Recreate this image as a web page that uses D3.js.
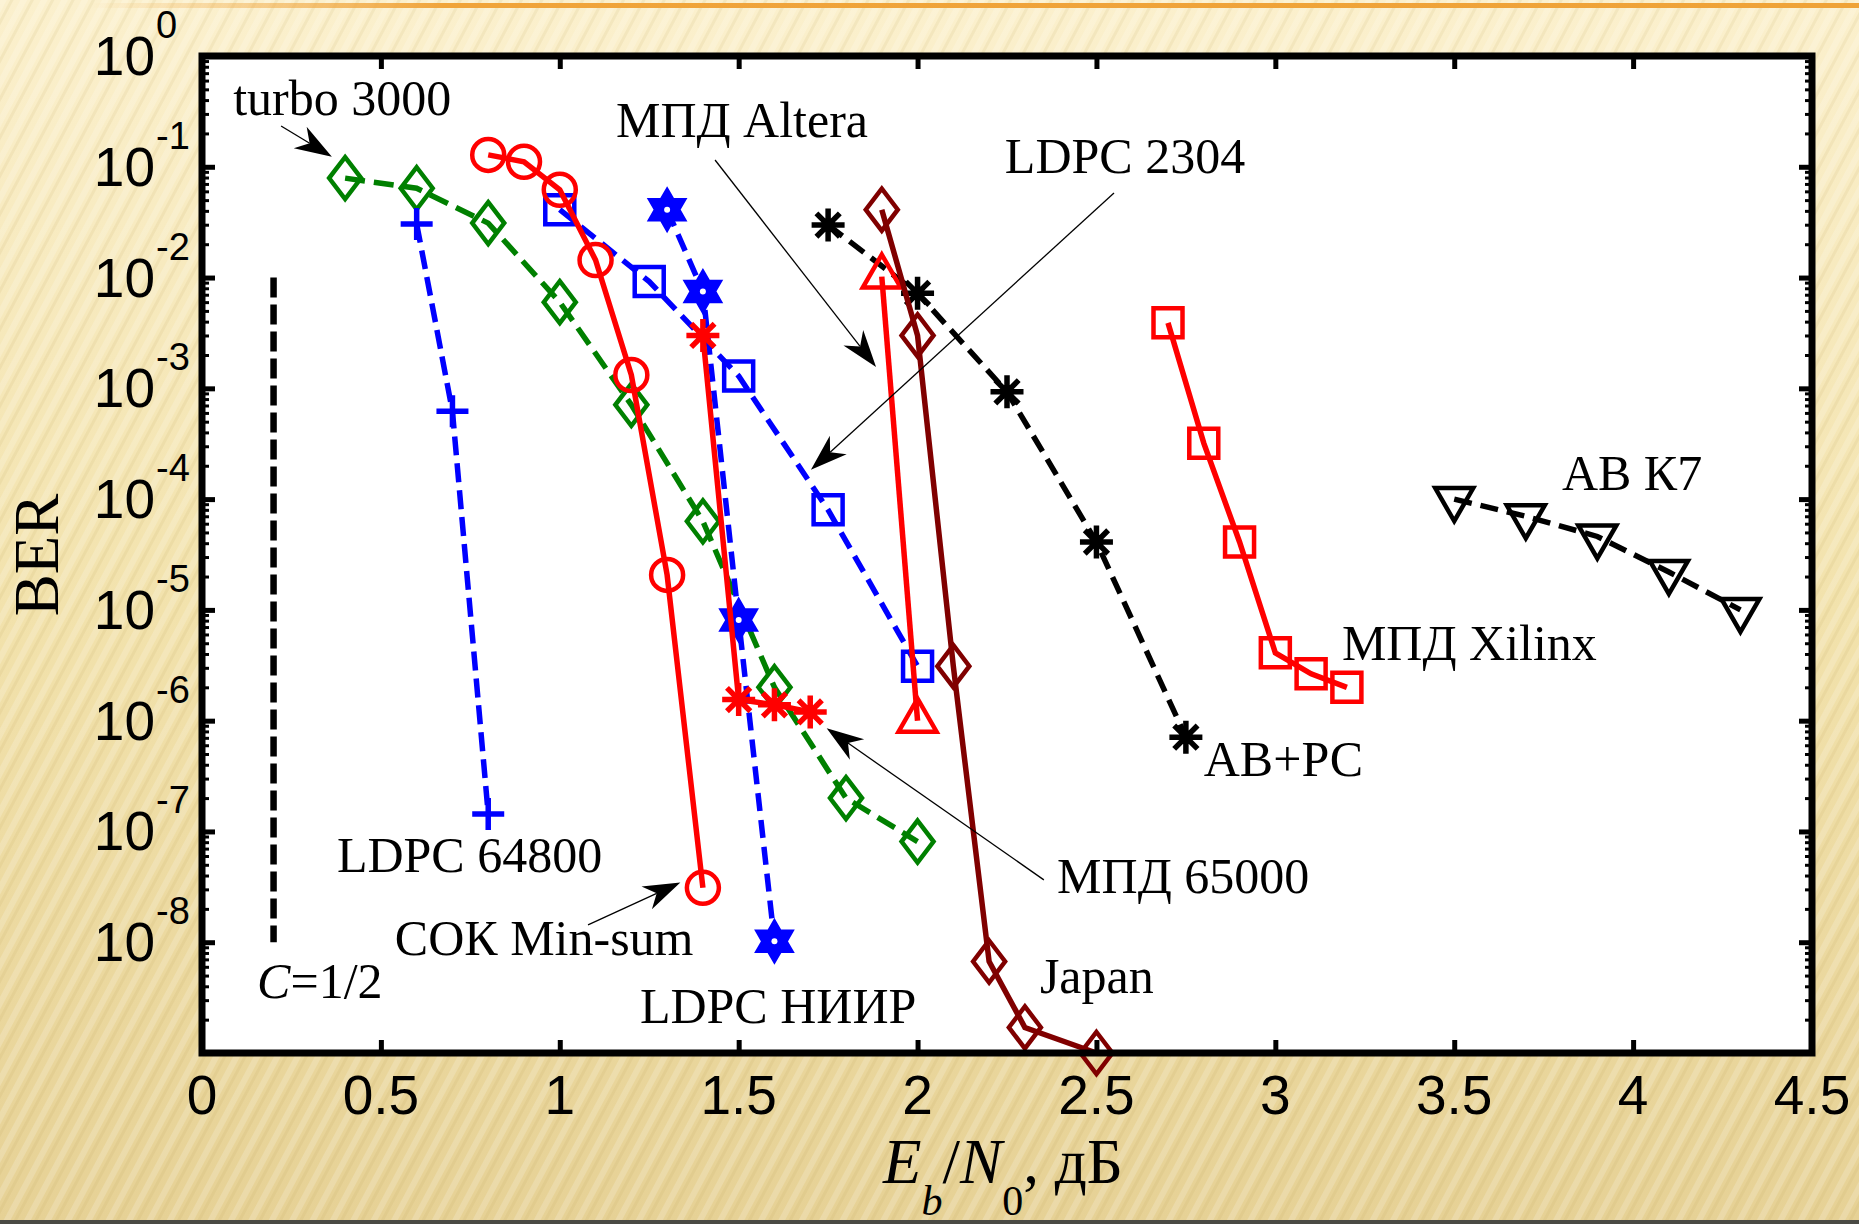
<!DOCTYPE html>
<html>
<head>
<meta charset="utf-8">
<script src="https://cdn.jsdelivr.net/npm/d3@7"></script>
<style>
  body { margin: 0; padding: 0; overflow: hidden; }
  .tick-label { font-family: "Liberation Sans", Arial, sans-serif; fill: #000; }
  .serif { font-family: "Liberation Serif", "Times New Roman", serif; fill: #000; }
</style>
</head>
<body>
<div id="chart"></div>
<script>
// data (Eb/N0 in dB, BER) ********************************
var turboX = [0.4, 0.6, 0.8, 1.0, 1.2, 1.4, 1.6, 1.8, 2.0];
var turboY = [7.9e-2, 6.4e-2, 3.1e-2, 6e-3, 7.1e-4, 6.3e-5, 2e-6, 2e-7, 8.1e-8];

var ldpc64800X = [0.6, 0.7, 0.8];
var ldpc64800Y = [3.05e-2, 6.2e-4, 1.44e-7];

var ldpc2304X = [1.0, 1.25, 1.5, 1.75, 2.0];
var ldpc2304Y = [4.1e-2, 9.2e-3, 1.29e-3, 8e-5, 3.1e-6];

var niirX = [1.3, 1.4, 1.5, 1.6];
var niirY = [4.1e-2, 7.5e-3, 8.1e-6, 1.02e-8];

var abrsX = [1.75, 2.0, 2.25, 2.5, 2.75];
var abrsY = [2.98e-2, 7.2e-3, 9.3e-4, 4.1e-5, 7.1e-7];

var minsumX = [0.8, 0.9, 1.0, 1.1, 1.2, 1.3, 1.4];
var minsumY = [0.128, 0.111, 0.062, 1.44e-2, 1.32e-3, 2.07e-5, 3.1e-8];

var mpd65000X = [1.4, 1.5, 1.6, 1.7];
var mpd65000Y = [3.0e-3, 1.55e-6, 1.39e-6, 1.2e-6];

var alteraX = [1.9, 2.0];
var alteraY = [1.02e-2, 1e-6];

var japanX = [1.9, 2.0, 2.1, 2.2, 2.3, 2.5];
var japanY = [4.1e-2, 3.0e-3, 3.1e-6, 6.7e-9, 1.7e-9, 1e-9];

var xilinxX = [2.7, 2.8, 2.9, 3.0, 3.1, 3.2];
var xilinxY = [3.9e-3, 3.2e-4, 4.1e-5, 4.1e-6, 2.65e-6, 2.0e-6];

var k7X = [3.5, 3.7, 3.9, 4.1, 4.3];
var k7Y = [1.0e-4, 7.0e-5, 4.6e-5, 2.2e-5, 1.0e-5];

// capacity bound C=1/2
var capX = [0.2, 0.2];
var capY = [1e-2, 1e-8];

// ticks
var xTicks = [0, 0.5, 1, 1.5, 2, 2.5, 3, 3.5, 4, 4.5];
var yTickExp = [0, -1, -2, -3, -4, -5, -6, -7, -8];

// labels on the plot, anchored in data units [x, BER]
var labelText = ["turbo 3000", "МПД Altera", "LDPC 2304", "МПД 65000", "СОК Min-sum",
  "LDPC 64800", "LDPC НИИР", "Japan", "АВ+РС", "МПД Xilinx", "АВ К7"];
var labelX = [0.087, 1.157, 2.244, 2.39, 0.539, 0.377, 1.224, 2.342, 2.80, 3.186, 3.801];
var labelY = [10**-0.532, 10**-0.731, 10**-1.056, 10**-7.554, 10**-8.114, 10**-7.365,
  10**-8.727, 10**-8.457, 10**-6.498, 10**-5.456, 10**-3.917];

// arrows: start -> tip, data units
var arrowFromX = [0.221, 1.434, 2.549, 2.353, 1.079];
var arrowFromY = [10**-0.632, 10**-0.939, 10**-1.236, 10**-7.437, 10**-7.843];
var arrowToX = [0.363, 1.884, 1.702, 1.746, 1.337];
var arrowToY = [10**-0.909, 10**-2.807, 10**-3.736, 10**-6.068, 10**-7.461];

// svg size and plot box ***********
var svgWidth = 1859;
var svgHeight = 1224;
var box = { left: 202, right: 1812, top: 56, bottom: 1053 };

var svg = d3.select("#chart")
  .append("svg")
  .attr("width", svgWidth)
  .attr("height", svgHeight);

var defs = svg.append("defs");

// slide background ***********
var bg = defs.append("linearGradient").attr("id", "bg").attr("x1", 0).attr("y1", 0).attr("x2", 0).attr("y2", 1);
bg.append("stop").attr("offset", "0%").attr("stop-color", "#fbf0cd");
bg.append("stop").attr("offset", "50%").attr("stop-color", "#f2e2ac");
bg.append("stop").attr("offset", "100%").attr("stop-color", "#e6d195");

var stripes = defs.append("pattern").attr("id", "stripes")
  .attr("width", 18).attr("height", 18)
  .attr("patternUnits", "userSpaceOnUse")
  .attr("patternTransform", "rotate(28)");
stripes.append("rect").attr("width", 6).attr("height", 18).attr("fill", "#ffffff").attr("opacity", 0.18);
stripes.append("rect").attr("x", 9).attr("width", 3).attr("height", 18).attr("fill", "#b89a4a").attr("opacity", 0.1);

var topLine = defs.append("linearGradient").attr("id", "topline");
topLine.append("stop").attr("offset", "0%").attr("stop-color", "#f0a43a").attr("stop-opacity", 0);
topLine.append("stop").attr("offset", "20%").attr("stop-color", "#f0a43a").attr("stop-opacity", 1);
topLine.append("stop").attr("offset", "100%").attr("stop-color", "#efa338");

svg.append("rect").attr("width", svgWidth).attr("height", svgHeight).attr("fill", "url(#bg)");
svg.append("rect").attr("width", svgWidth).attr("height", svgHeight).attr("fill", "url(#stripes)");
svg.append("rect").attr("x", 90).attr("y", 3).attr("width", svgWidth - 90).attr("height", 5).attr("fill", "url(#topline)");
svg.append("rect").attr("x", 0).attr("y", 1220).attr("width", svgWidth).attr("height", 4).attr("fill", "#4a4a44");

// scales ***********
var x = d3.scaleLinear().domain([0, 4.5]).range([box.left, box.right]);
var y = d3.scaleLog().domain([1e-9, 1]).range([box.bottom, box.top]);

// plot area
svg.append("rect")
  .attr("x", box.left).attr("y", box.top)
  .attr("width", box.right - box.left).attr("height", box.bottom - box.top)
  .attr("fill", "#fff");

var chart = svg.append("g");

// ticks (drawn inside the box like matlab) ***********
var minorY = [];
d3.range(-9, 0).forEach(function(e) {
  d3.range(2, 10).forEach(function(k) { minorY.push(k * Math.pow(10, e)); });
});
var majorY = d3.range(-9, 1).map(function(e) { return Math.pow(10, e); });

function tickAxis(axis, pos, width) {
  var g = chart.append("g").attr("transform", pos).call(axis);
  g.select(".domain").remove();
  g.selectAll(".tick line").attr("stroke", "#000").attr("stroke-width", width);
  g.selectAll(".tick text").remove();
}
tickAxis(d3.axisBottom(x).tickValues(xTicks).tickSize(-13), `translate(0,${box.bottom})`, 5);
tickAxis(d3.axisTop(x).tickValues(xTicks).tickSize(-13), `translate(0,${box.top})`, 5);
tickAxis(d3.axisLeft(y).tickValues(majorY).tickSize(-13), `translate(${box.left},0)`, 5);
tickAxis(d3.axisRight(y).tickValues(majorY).tickSize(-13), `translate(${box.right},0)`, 5);
tickAxis(d3.axisLeft(y).tickValues(minorY).tickSize(-7), `translate(${box.left},0)`, 3);
tickAxis(d3.axisRight(y).tickValues(minorY).tickSize(-7), `translate(${box.right},0)`, 3);

// tick labels ***********
chart.selectAll(".xlab")
  .data(xTicks)
  .enter()
  .append("text")
  .attr("class", "tick-label")
  .attr("x", d => x(d))
  .attr("y", 1114)
  .attr("text-anchor", "middle")
  .style("font-size", "55px")
  .text(d => d);

chart.selectAll(".ylab")
  .data(yTickExp)
  .enter()
  .append("text")
  .attr("class", "tick-label")
  .attr("x", box.left - 47)
  .attr("y", d => y(Math.pow(10, d)) + 19)
  .attr("text-anchor", "end")
  .style("font-size", "55px")
  .text("10");

chart.selectAll(".yexp")
  .data(yTickExp)
  .enter()
  .append("text")
  .attr("class", "tick-label")
  .attr("x", box.left - 46)
  .attr("y", d => y(Math.pow(10, d)) - 18)
  .style("font-size", "38px")
  .text(d => d === 0 ? "0" : "-" + Math.abs(d));

// markers ***********
function hexagram(r) {
  var pts = [];
  for (var i = 0; i < 12; i++) {
    var a = -Math.PI / 2 + i * Math.PI / 6;
    var rr = i % 2 === 0 ? r : r / Math.sqrt(3);
    pts.push([rr * Math.cos(a), rr * Math.sin(a)]);
  }
  return "M" + pts.map(p => p[0].toFixed(2) + "," + p[1].toFixed(2)).join("L") + "Z";
}
var markerPath = {
  circle: "M16,0A16,16 0 1 1 -16,0A16,16 0 1 1 16,0Z",
  square: "M-14.5,-14.5H14.5V14.5H-14.5Z",
  diamond: "M0,-21L16,0L0,21L-16,0Z",
  plus: "M-16,0H16M0,-16V16",
  star: "M-16.5,0H16.5M0,-16.5V16.5M-11.7,-11.7L11.7,11.7M-11.7,11.7L11.7,-11.7",
  hexagram: hexagram(19),
  up: "M0,-22L19,11L-19,11Z",
  down: "M0,22L19,-11L-19,-11Z"
};

// series table built from the arrays above ***********
var series = [
  { xs: turboX, ys: turboY, color: "#008000", dash: "20,9", marker: "diamond" },
  { xs: ldpc64800X, ys: ldpc64800Y, color: "#0000ff", dash: "19,8", marker: "plus" },
  { xs: ldpc2304X, ys: ldpc2304Y, color: "#0000ff", dash: "18,9", marker: "square" },
  { xs: niirX, ys: niirY, color: "#0000ff", dash: "18,9", marker: "hexagram" },
  { xs: abrsX, ys: abrsY, color: "#000000", dash: "18,9", marker: "star" },
  { xs: minsumX, ys: minsumY, color: "#ff0000", dash: null, marker: "circle" },
  { xs: mpd65000X, ys: mpd65000Y, color: "#ff0000", dash: null, marker: "star" },
  { xs: alteraX, ys: alteraY, color: "#ff0000", dash: null, marker: "up" },
  { xs: japanX, ys: japanY, color: "#800000", dash: null, marker: "diamond" },
  { xs: xilinxX, ys: xilinxY, color: "#ff0000", dash: null, marker: "square" },
  { xs: k7X, ys: k7Y, color: "#000000", dash: "18,9", marker: "down" }
];

var line = d3.line().x(d => x(d[0])).y(d => y(d[1]));

// C = 1/2 bound
chart.append("path")
  .datum(d3.zip(capX, capY))
  .attr("d", line)
  .attr("fill", "none")
  .attr("stroke", "#000")
  .attr("stroke-width", 6.5)
  .attr("stroke-dasharray", "20,7");

series.forEach(function(s) {
  var pts = d3.zip(s.xs, s.ys);
  var g = chart.append("g");
  g.append("path")
    .datum(pts)
    .attr("d", line)
    .attr("fill", "none")
    .attr("stroke", s.color)
    .attr("stroke-width", 5.5)
    .attr("stroke-dasharray", s.dash);
  g.selectAll(".mk")
    .data(pts)
    .enter()
    .append("path")
    .attr("transform", d => `translate(${x(d[0])},${y(d[1])})`)
    .attr("d", markerPath[s.marker])
    // the thick matlab hexagram outline leaves almost no white inside
    .attr("fill", s.marker === "hexagram" ? s.color : "none")
    .attr("stroke", s.color)
    .attr("stroke-width", s.marker === "star" || s.marker === "plus" ? 5.5 : 4.5)
    .attr("stroke-linejoin", "miter");
  if (s.marker === "hexagram") {
    g.selectAll(".hole")
      .data(pts)
      .enter()
      .append("circle")
      .attr("cx", d => x(d[0]))
      .attr("cy", d => y(d[1]))
      .attr("r", 3)
      .attr("fill", "#fff");
  }
});

// annotation arrows ***********
d3.range(arrowToX.length).forEach(function(i) {
  var x0 = x(arrowFromX[i]), y0 = y(arrowFromY[i]);
  var x1 = x(arrowToX[i]), y1 = y(arrowToY[i]);
  var a = Math.atan2(y1 - y0, x1 - x0);
  var ca = Math.cos(a), sa = Math.sin(a);
  function p(back, side) { return [x1 - back * ca - side * sa, y1 - back * sa + side * ca]; }
  var notch = p(26, 0);
  chart.append("line")
    .attr("x1", x0).attr("y1", y0).attr("x2", notch[0]).attr("y2", notch[1])
    .attr("stroke", "#000").attr("stroke-width", 1.3);
  chart.append("path")
    .attr("d", "M" + [[x1, y1], p(37, 12.5), notch, p(37, -12.5)].join("L") + "Z")
    .attr("fill", "#000");
});

// labels on the plot ***********
chart.selectAll(".ann")
  .data(d3.range(labelText.length))
  .enter()
  .append("text")
  .attr("class", "serif")
  .attr("x", i => x(labelX[i]))
  .attr("y", i => y(labelY[i]))
  .style("font-size", "50px")
  .text(i => labelText[i]);

var cap = chart.append("text")
  .attr("class", "serif")
  .attr("x", x(0.154))
  .attr("y", y(10 ** -8.507))
  .style("font-size", "50px");
cap.append("tspan").style("font-style", "italic").text("C");
cap.append("tspan").text("=1/2");

// box outline on top ***********
svg.append("rect")
  .attr("x", box.left).attr("y", box.top)
  .attr("width", box.right - box.left).attr("height", box.bottom - box.top)
  .attr("fill", "none")
  .attr("stroke", "#000")
  .attr("stroke-width", 7);

// axis titles ***********
svg.append("text")
  .attr("class", "serif")
  .attr("transform", "translate(58,555) rotate(-90)")
  .attr("text-anchor", "middle")
  .style("font-size", "63px")
  .text("BER");

var xt = svg.append("text")
  .attr("class", "serif")
  .attr("x", 1003)
  .attr("y", 1183)
  .attr("text-anchor", "middle")
  .style("font-size", "63px");
xt.append("tspan").style("font-style", "italic").text("E");
xt.append("tspan").style("font-style", "italic").style("font-size", "42px").attr("dy", 32).text("b");
xt.append("tspan").attr("dy", -32).text("/");
xt.append("tspan").style("font-style", "italic").text("N");
xt.append("tspan").style("font-size", "42px").attr("dy", 32).text("0");
xt.append("tspan").attr("dy", -32).text(", дБ");
</script>
</body>
</html>
